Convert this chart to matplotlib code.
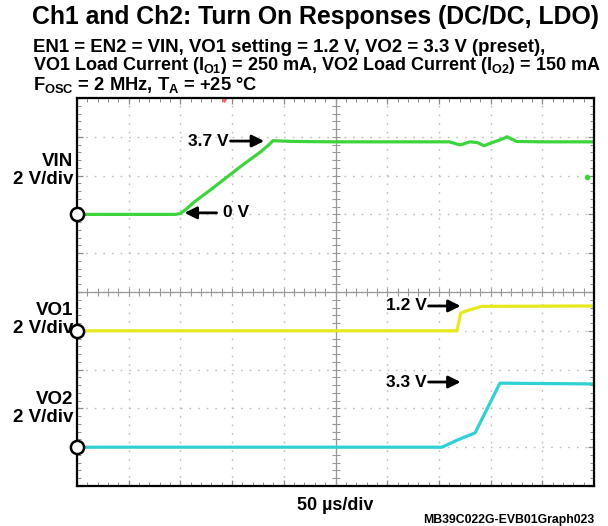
import numpy as np
import matplotlib
matplotlib.use("Agg")
import matplotlib.pyplot as plt

plt.rcParams['font.family'] = ['Liberation Sans', 'DejaVu Sans']
plt.rcParams['font.weight'] = 'bold'
plt.rcParams['mathtext.fontset'] = 'custom'
plt.rcParams['mathtext.rm'] = 'Liberation Sans:bold'
plt.rcParams['mathtext.it'] = 'Liberation Sans:bold'
plt.rcParams['mathtext.bf'] = 'Liberation Sans:bold'

# traces in screen divisions (x: 50 us/div, y: 2 V/div)
vin_t = [0, 1.9, 1.99, 2.1, 2.24, 2.6, 2.9, 3.2, 3.54, 3.7, 3.79, 4.2, 5.0, 6.0,
         7.2, 7.41, 7.6, 7.75, 7.87, 8.05, 8.2, 8.32, 8.5, 9.0, 10.0]
vin_v = [7.0, 7.0, 7.02, 7.12, 7.29, 7.65, 7.96, 8.27, 8.6, 8.78, 8.9, 8.88, 8.87, 8.87,
         8.87, 8.79, 8.87, 8.85, 8.77, 8.86, 8.93, 9.0, 8.88, 8.87, 8.87]
vo1_t = [0, 7.35, 7.42, 7.5, 7.83, 10.0]
vo1_v = [4.0, 4.0, 4.45, 4.5, 4.63, 4.64]
vo2_t = [0, 7.06, 7.35, 7.7, 8.18, 10.0]
vo2_v = [1.0, 1.0, 1.18, 1.37, 2.65, 2.63]

channels = ["VIN\n2 V/div", "VO1\n2 V/div", "VO2\n2 V/div"]
ground = [7.0, 4.0, 1.0]
label_y = [8.14, 4.3, 2.0]

notes = ["3.7 V", "0 V", "1.2 V", "3.3 V"]
note_tip = [(3.62, 8.89), (2.08, 7.04), (7.42, 4.64), (7.42, 2.68)]
note_tail = [(2.97, 8.89), (2.7, 7.04), (6.8, 4.64), (6.8, 2.68)]

green = '#3dd43d'
yellow = '#e8e81e'
cyan = '#2fd0d6'

fig = plt.figure(figsize=(6.08, 5.26), dpi=100)
ax = fig.add_axes([77 / 608, 40 / 526, 517 / 608, 388 / 526])
ax.set_xlim(0, 10)
ax.set_ylim(0, 10)

ax.set_xticks(np.arange(0, 11, 1))
ax.set_yticks(np.arange(0, 11, 1))
ax.set_xticks(np.arange(0, 10.01, 0.2), minor=True)
ax.set_yticks(np.arange(0, 10.01, 0.2), minor=True)
ax.tick_params(which='both', direction='in', top=True, right=True,
               labelbottom=False, labelleft=False, color='#8a8a8a')
ax.tick_params(which='major', length=4, width=0.9)
ax.tick_params(which='minor', length=3, width=0.7)
ax.grid(True, which='major', color='#bdbdbd', linestyle=(0, (1.2, 5)), linewidth=1.0)
for s in ax.spines.values():
    s.set_linewidth(1.6)
    s.set_color('black')

ax.axhline(5, color='#999999', lw=0.9)
ax.axvline(5, color='#999999', lw=0.9)
mt = np.arange(0, 10.01, 0.2)
ax.plot(mt, np.full_like(mt, 5), ls='none', marker='|', ms=6, mew=0.8, color='#999999')
ax.plot(np.full_like(mt, 5), mt, ls='none', marker='_', ms=6, mew=0.8, color='#999999')

ax.plot(vin_t, vin_v, color=green, lw=2.3, solid_joinstyle='round')
ax.plot(vo1_t, vo1_v, color=yellow, lw=2.3, solid_joinstyle='round')
ax.plot(vo2_t, vo2_v, color=cyan, lw=2.3, solid_joinstyle='round')

# trigger markers
ax.plot([9.86], [7.96], marker='o', ms=3, color=green)
ax.plot([2.84], [9.95], marker='v', ms=3, color='#ff6666', clip_on=False)

for g in ground:
    ax.plot([0], [g], marker='o', ms=9.5, mfc='white', mec='black', mew=1.8,
            clip_on=False, zorder=5)

for lab, y in zip(channels, label_y):
    ax.text(-0.07, y, lab, ha='right', va='center', fontsize=13.5,
            fontweight='bold', linespacing=1.1, clip_on=False)

for n, tip, tail in zip(notes, note_tip, note_tail):
    ha = 'left' if tip[0] < tail[0] else 'right'
    ax.annotate('', xy=tip, xytext=tail,
                arrowprops=dict(arrowstyle='-|>', color='black', lw=2,
                                mutation_scale=18, shrinkA=0, shrinkB=0))
    tx = tail[0] + (0.12 if ha == 'left' else -0.04)
    ax.text(tx, tail[1], n, ha=ha, va='center', fontsize=12.5, fontweight='bold')

fig.text(32 / 608, 1 - 17 / 526, "Ch1 and Ch2: Turn On Responses (DC/DC, LDO)",
         ha='left', va='center', fontsize=17.8, fontweight='bold')
fig.text(33 / 608, 1 - 47 / 526,
         "EN1 = EN2 = VIN, VO1 setting = 1.2 V, VO2 = 3.3 V (preset),",
         ha='left', va='center', fontsize=13.4, fontweight='bold')
fig.text(33 / 608, 1 - 66 / 526,
         r"VO1 Load Current (I$_{\mathrm{O1}}$) = 250 mA, VO2 Load Current (I$_{\mathrm{O2}}$) = 150 mA",
         ha='left', va='center', fontsize=13.0, fontweight='bold')
fig.text(33 / 608, 1 - 85 / 526,
         r"F$_{\mathrm{OSC}}$ = 2 MHz, T$_{\mathrm{A}}$ = +25 °C",
         ha='left', va='center', fontsize=13.2, fontweight='bold')

fig.text(335 / 608, 1 - 505 / 526, "50 µs/div", ha='center', va='center',
         fontsize=13, fontweight='bold')
fig.text(594 / 608, 1 - 520 / 526, "MB39C022G-EVB01Graph023", ha='right',
         va='center', fontsize=8.8, fontweight='bold')

fig.savefig("out.png", dpi=100)
